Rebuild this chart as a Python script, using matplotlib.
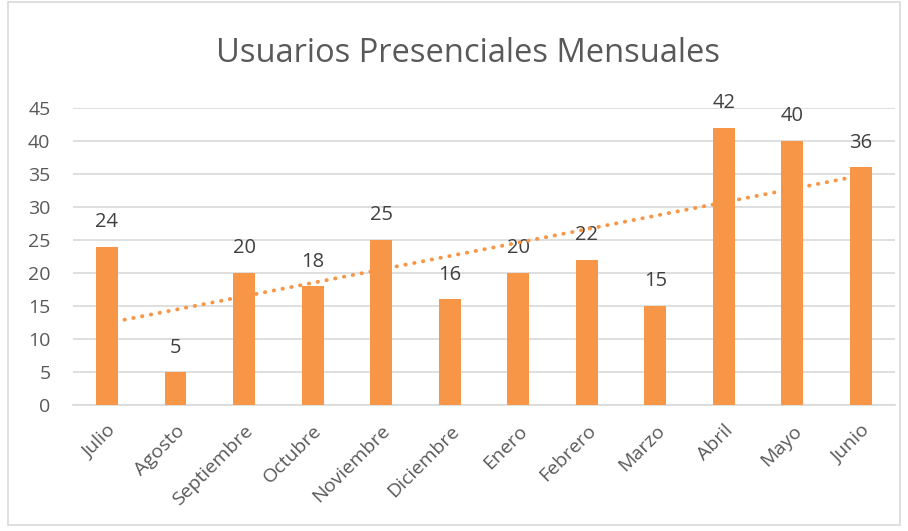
import numpy as np
import matplotlib
matplotlib.use("Agg")
import matplotlib.pyplot as plt
from matplotlib.patches import Rectangle

meses = ['Julio', 'Agosto', 'Septiembre', 'Octubre', 'Noviembre', 'Diciembre',
         'Enero', 'Febrero', 'Marzo', 'Abril', 'Mayo', 'Junio']
usuarios = [24, 5, 20, 18, 25, 16, 20, 22, 15, 42, 40, 36]
y_ticks = [0, 5, 10, 15, 20, 25, 30, 35, 40, 45]

plt.rcParams['font.family'] = ['Open Sans', 'DejaVu Sans']

fig = plt.figure(figsize=(9.08, 5.31), dpi=100)
ax = fig.add_axes([0.080, 0.237, 0.906, 0.560])

x = np.arange(len(meses))
bars = ax.bar(x, usuarios, width=0.32, color='#F79646', zorder=3)

# linear trend line
p = np.polyfit(x, usuarios, 1)
ax.plot(x, np.polyval(p, x), linestyle=(0, (0.1, 2.2)), dash_capstyle='round',
        color='#F79646', linewidth=2.8, zorder=4)

for xi, v in zip(x, usuarios):
    ax.text(xi, v + 2.2, str(v), ha='center', va='bottom', fontsize=14.5, color='#404040')

ax.set_xlim(-0.5, len(meses) - 0.5)
ax.set_ylim(0, 45)
ax.set_yticks(y_ticks)
ax.set_xticks(x)
ax.set_xticklabels(meses, rotation=45, ha='right', rotation_mode='anchor')
ax.tick_params(axis='both', length=0, labelsize=14, labelcolor='#595959')
ax.tick_params(axis='y', pad=16)
ax.tick_params(axis='x', pad=12)
ax.grid(axis='y', color='#D9D9D9', linewidth=1.2, zorder=0)
for s in ['top', 'right', 'left']:
    ax.spines[s].set_visible(False)
ax.spines['bottom'].set_color('#D9D9D9')
ax.spines['bottom'].set_linewidth(1.2)

fig.text(0.515, 0.900, 'Usuarios Presenciales Mensuales', ha='center', va='center',
         fontsize=23.5, color='#595959')

fig.patches.append(Rectangle((0.009, 0.012), 0.982, 0.985, transform=fig.transFigure,
                             fill=False, edgecolor='#D9D9D9', linewidth=1.2))

fig.savefig('out.png', dpi=100)
